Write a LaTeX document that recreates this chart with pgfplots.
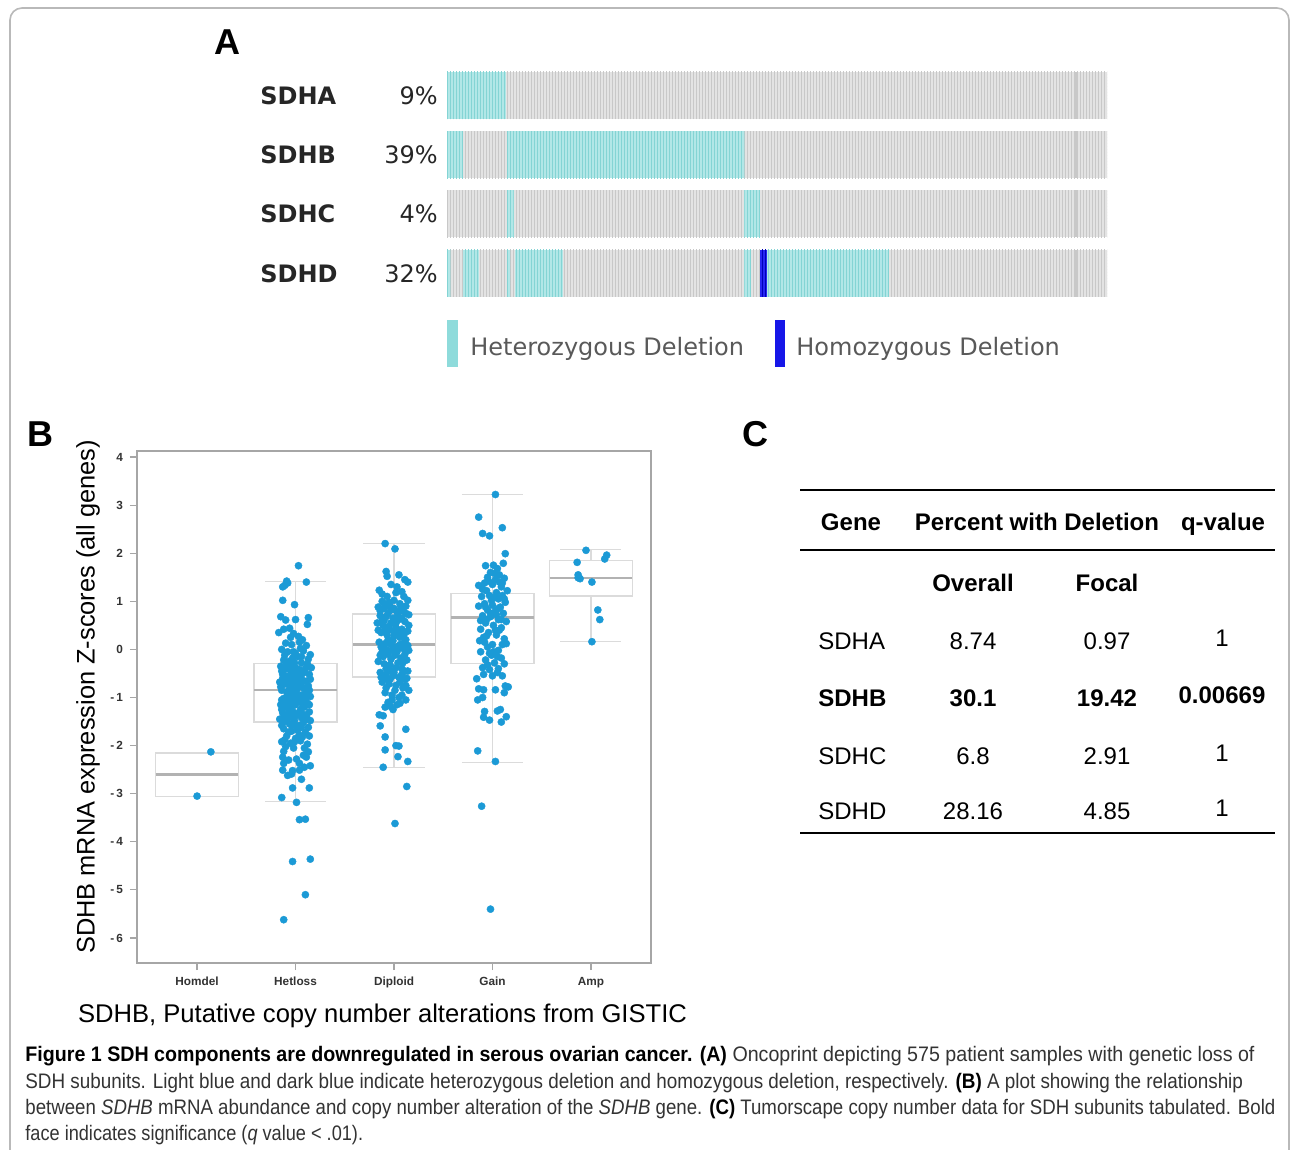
\documentclass[border=0pt]{standalone}
\usepackage{fontspec}
\setmainfont{Liberation Sans}
\newfontfamily\dejavu{DejaVu Sans}
\newfontfamily\capfont[FakeStretch=0.93]{Liberation Sans}
\usepackage{pgfplots}
\pgfplotsset{compat=1.18}
\usepgfplotslibrary{statistics}
\usetikzlibrary{patterns.meta}
\definecolor{grayb}{HTML}{E3E3E3}
\definecolor{grays}{HTML}{C8C8C8}
\definecolor{hetb}{HTML}{B2E7E7}
\definecolor{hets}{HTML}{84D4D4}
\definecolor{homb}{HTML}{2626F2}
\definecolor{homs}{HTML}{0000B8}
\definecolor{hetleg}{HTML}{8EDBDB}
\definecolor{homleg}{HTML}{1616E8}
\definecolor{ptblue}{HTML}{1B9AD6}
\tikzset{
 gseg/.style={draw=none, fill=grayb, postaction={pattern={Lines[angle=90,distance=1.5pt,line width=0.4pt]}, pattern color=grays}},
 dseg/.style={draw=none, fill=grays},
 hseg/.style={draw=none, fill=hetb, postaction={pattern={Lines[angle=90,distance=1.5pt,line width=0.4pt]}, pattern color=hets}},
 mseg/.style={draw=none, fill=homb, postaction={pattern={Lines[angle=90,distance=1.5pt,line width=0.4pt]}, pattern color=homs}},
 pts/.style={only marks, mark=*, mark size=1.8pt, color=ptblue, mark options={fill=ptblue, draw=ptblue, line width=0.2pt}},
 bx/.style={draw=gray!28, mark=none},
}
\newcommand{\seg}[5]{\addplot[#5] coordinates {(#1,#3) (#2,#3) (#2,#4) (#1,#4)} -- cycle;}
\begin{document}
\begin{tikzpicture}
\useasboundingbox (0,0) rectangle (645pt,-575pt);
\fill[white] (0,0) rectangle (645pt,-575pt);
% ---------------- Panel A ----------------
\begin{axis}[at={(223.5pt,-32.95pt)}, anchor=north west, scale only axis,
  width=330pt, height=118.4pt, xmin=0, xmax=575, ymin=0.5, ymax=4.5,
  y dir=reverse, hide axis, clip=false]
% SDHA
\seg{0}{575}{0.603}{1.397}{gseg}
\seg{547}{550}{0.603}{1.397}{dseg}
\seg{0}{51}{0.603}{1.397}{hseg}
% SDHB
\seg{0}{575}{1.603}{2.397}{gseg}
\seg{547}{550}{1.603}{2.397}{dseg}
\seg{0}{14}{1.603}{2.397}{hseg}
\seg{52}{259}{1.603}{2.397}{hseg}
% SDHC
\seg{0}{575}{2.603}{3.397}{gseg}
\seg{547}{550}{2.603}{3.397}{dseg}
\seg{52}{58}{2.603}{3.397}{hseg}
\seg{259}{273}{2.603}{3.397}{hseg}
% SDHD
\seg{0}{575}{3.603}{4.397}{gseg}
\seg{547}{550}{3.603}{4.397}{dseg}
\seg{0}{3}{3.603}{4.397}{hseg}
\seg{14}{28}{3.603}{4.397}{hseg}
\seg{52}{55}{3.603}{4.397}{hseg}
\seg{59}{101}{3.603}{4.397}{hseg}
\seg{259}{265}{3.603}{4.397}{hseg}
\seg{273}{279}{3.603}{4.397}{mseg}
\seg{279}{385}{3.603}{4.397}{hseg}
\end{axis}
% ---------------- Panel B ----------------
\begin{axis}[at={(68.5pt,-481.5pt)}, anchor=south west, scale only axis,
  width=257pt, height=256pt, xmin=-0.61, xmax=4.61, ymin=-6.52, ymax=4.125,
  xtick={0,1,2,3,4}, xticklabels={Homdel,Hetloss,Diploid,Gain,Amp},
  ytick={-6,-5,-4,-3,-2,-1,0,1,2,3,4},
  yticklabels={-\,6,-\,5,-\,4,-\,3,-\,2,-\,1,0,1,2,3,4},
  tick align=outside, xtick pos=bottom, ytick pos=left, major tick length=3.5pt,
  tick style={gray!70, line width=0.6pt},
  axis line style={gray!70, line width=0.9pt},
  ticklabel style={font=\bfseries\fontsize{5.9}{6}\selectfont, text=black!80},
  boxplot/draw direction=y,
  boxplot/every box/.style={draw=gray!28, line width=0.7pt},
  boxplot/every whisker/.style={draw=gray!28, line width=0.6pt},
  boxplot/every median/.style={draw=gray!60, line width=1.4pt},
  boxplot/box extend=0.84, boxplot/whisker extend=0.62]
\addplot[bx, boxplot prepared={median=-2.6, upper quartile=-2.15, lower quartile=-3.055, upper whisker=-2.15, lower whisker=-3.055, draw position=0}] coordinates {};
\addplot[bx, boxplot prepared={median=-0.845, upper quartile=-0.295, lower quartile=-1.51, upper whisker=1.42, lower whisker=-3.17, draw position=1}] coordinates {};
\addplot[bx, boxplot prepared={median=0.105, upper quartile=0.736, lower quartile=-0.57, upper whisker=2.20, lower whisker=-2.45, draw position=2}] coordinates {};
\addplot[bx, boxplot prepared={median=0.67, upper quartile=1.16, lower quartile=-0.295, upper whisker=3.22, lower whisker=-2.35, draw position=3}] coordinates {};
\addplot[bx, boxplot prepared={median=1.485, upper quartile=1.85, lower quartile=1.107, upper whisker=2.08, lower whisker=0.157, draw position=4}] coordinates {};
% Homdel
\addplot[pts] coordinates {(0.14,-2.13) (0.00,-3.05)};
% Hetloss
\addplot[pts] coordinates {
(1.03,1.74) (0.91,1.42) (0.92,1.38) (1.11,1.40) (0.87,1.30) (0.89,1.33) (0.87,1.02) (0.99,0.93) (0.85,0.68) (0.90,0.61) (1.00,0.62) (1.13,0.66) (1.12,0.52) (0.88,0.42) (0.94,0.44) (0.83,0.35) (0.98,0.33) (1.03,0.27) (1.07,0.20) (0.90,0.13) (0.96,0.10) (1.11,0.08) (1.05,0.02) (0.86,0.00) (1.15,-0.11) (0.92,-0.05) (1.00,-0.08) (1.08,-0.03)
(0.88,-0.22) (0.93,-0.25) (0.97,-0.18) (1.02,-0.15) (1.06,-0.28) (1.12,-0.30) (1.16,-0.38) (0.85,-0.35) (0.90,-0.40) (0.95,-0.45) (1.00,-0.38) (1.04,-0.42) (1.09,-0.48) (1.14,-0.52) (0.87,-0.52) (0.92,-0.58) (0.97,-0.55) (1.01,-0.62) (1.06,-0.60) (1.11,-0.66) (0.84,-0.68) (0.89,-0.72) (0.94,-0.75) (0.99,-0.70) (1.03,-0.78) (1.08,-0.80) (1.13,-0.76) (0.86,-0.85) (0.91,-0.88) (0.96,-0.92) (1.01,-0.86) (1.06,-0.95) (1.10,-0.90) (1.15,-0.98) (0.88,-1.02) (0.93,-1.05) (0.98,-1.00) (1.03,-1.08) (1.07,-1.04) (1.12,-1.12) (0.85,-1.15) (0.90,-1.18) (0.95,-1.22) (1.00,-1.15) (1.05,-1.25) (1.09,-1.20) (1.14,-1.30) (0.87,-1.32) (0.92,-1.36) (0.97,-1.40) (1.02,-1.33) (1.06,-1.42) (1.11,-1.38) (0.84,-1.45) (0.89,-1.50) (0.94,-1.55) (0.99,-1.48) (1.04,-1.58) (1.08,-1.52) (1.13,-1.62) (0.88,-1.65) (0.96,-1.70) (1.02,-1.68) (1.10,-1.72) (0.91,-1.80) (1.00,-1.85) (1.07,-1.82) (0.86,-1.92) (0.95,-1.95) (1.05,-1.90) (1.12,-1.97)
(0.91,-0.30) (0.99,-0.28) (1.05,-0.50) (0.93,-0.65) (1.00,-0.95) (0.89,-1.10) (1.10,-1.05) (0.97,-1.28) (1.03,-0.72) (0.94,-0.82) (0.87,-0.60) (1.14,-0.85) (1.00,-0.48) (0.95,-1.12) (1.08,-1.35) (0.92,-1.45) (1.01,-1.60) (0.86,-1.25) (1.15,-1.48) (1.06,-0.15)
(0.95,0.25) (1.04,0.15) (0.89,-0.12) (0.98,-0.05) (1.13,-0.20) (0.86,-0.45) (0.96,-0.35) (1.10,-0.40) (0.90,-0.55) (1.02,-0.52) (1.15,-0.62) (0.98,-0.62) (0.85,-0.78) (0.96,-0.80) (1.06,-0.70) (1.12,-0.95) (0.92,-0.95) (1.04,-1.00) (0.86,-1.05) (1.00,-1.08) (1.14,-1.15) (0.93,-1.25) (1.07,-1.15) (0.89,-1.40) (1.00,-1.38) (1.12,-1.45) (0.96,-1.58) (1.06,-1.62) (0.86,-1.58) (0.93,-1.72) (1.04,-1.78) (1.14,-1.80) (0.89,-1.88) (0.98,-2.05) (1.09,-2.05) (0.93,-2.30) (1.01,-2.28) (0.92,-2.62) (1.09,-2.45) (0.99,-1.92)
(0.90,-2.02) (0.88,-2.12) (1.13,-2.13) (0.87,-2.24) (1.08,-2.20) (1.11,-2.24) (0.88,-2.37) (1.04,-2.37) (1.15,-2.42) (0.87,-2.51) (0.97,-2.52) (1.04,-2.51) (0.96,-2.59) (1.06,-2.70) (0.97,-2.88) (1.14,-2.88) (0.86,-3.08) (1.01,-3.18) (1.04,-3.54) (1.10,-3.53) (0.97,-4.41) (1.15,-4.36) (1.10,-5.10) (0.88,-5.62)};
% Diploid
\addplot[pts] coordinates {
(1.91,2.20) (2.01,2.09) (1.92,1.62) (1.93,1.52) (2.05,1.55) (2.11,1.45) (2.14,1.40) (1.85,1.23) (1.97,1.35) (2.03,1.30) (2.10,1.10) (1.93,1.10) (1.88,1.00) (1.95,0.98) (2.00,1.02) (2.06,0.95) (2.12,0.90) (1.84,0.88) (1.90,0.85) (1.97,0.82) (2.03,0.78) (2.09,0.80) (2.15,0.72) (1.86,0.70) (1.92,0.68) (1.99,0.65) (2.05,0.62) (2.11,0.58) (1.83,0.55) (1.89,0.50) (1.95,0.48) (2.02,0.45) (2.08,0.42) (2.14,0.38) (1.87,0.35) (1.93,0.30) (2.00,0.28) (2.06,0.25) (2.12,0.20) (1.85,0.15) (1.91,0.12) (1.97,0.10) (2.03,0.05) (2.09,0.02) (2.15,-0.02) (1.88,-0.05) (1.94,-0.10) (2.01,-0.12) (2.07,-0.18) (2.13,-0.22) (1.84,-0.25) (1.90,-0.30) (1.96,-0.32) (2.02,-0.38) (2.08,-0.40) (2.14,-0.45) (1.86,-0.48) (1.92,-0.52) (1.99,-0.55) (2.05,-0.58) (2.11,-0.62) (1.88,-0.68) (1.95,-0.72) (2.02,-0.75) (2.09,-0.80) (2.15,-0.85) (1.91,-0.90) (1.98,-0.95) (2.05,-1.00) (2.12,-1.05) (1.94,-1.10) (2.03,-1.15) (1.99,-1.25)
(1.96,0.90) (2.04,0.70) (1.90,0.60) (2.00,0.38) (2.10,0.30) (1.94,0.20) (2.06,0.10) (1.98,-0.02) (2.11,-0.10) (1.89,-0.15) (2.04,-0.28) (1.97,-0.45) (2.08,-0.52) (1.93,-0.62) (2.01,-0.85) (2.13,-0.60) (1.87,0.05) (2.02,0.55) (1.95,0.40) (2.07,0.88)
(1.88,1.15) (2.02,1.18) (2.08,1.20) (1.90,0.95) (2.14,1.02) (1.86,0.80) (2.00,0.85) (2.12,0.75) (1.94,0.75) (2.08,0.65) (1.88,0.60) (1.97,0.55) (2.15,0.50) (1.91,0.42) (2.05,0.35) (1.84,0.40) (1.99,0.18) (2.09,0.12) (1.92,0.00) (2.03,-0.05) (2.14,0.08) (1.86,-0.12) (1.97,-0.20) (2.09,-0.28) (1.92,-0.40) (2.00,-0.48) (2.11,-0.45) (1.87,-0.58) (1.96,-0.62) (2.06,-0.68) (2.12,-0.75) (1.92,-0.80) (1.98,-1.05) (2.08,-0.95) (2.06,-1.12) (1.96,-1.18)
(1.91,-1.20) (1.85,-1.36) (1.89,-1.38) (1.86,-1.59) (1.91,-1.82) (2.12,-1.66) (1.91,-2.09) (2.02,-2.00) (2.05,-2.01) (2.04,-2.23) (2.14,-2.33) (1.89,-2.45) (2.13,-2.85) (2.01,-3.62)};
% Gain
\addplot[pts] coordinates {
(3.03,3.22) (2.86,2.75) (3.10,2.53) (2.90,2.41) (2.97,2.36) (3.13,1.99) (3.11,1.79) (2.93,1.74) (3.01,1.75) (3.05,1.68) (2.98,1.60) (3.07,1.55) (3.12,1.48) (2.95,1.50) (3.03,1.45) (2.86,1.33) (2.92,1.38) (3.00,1.35) (3.09,1.30) (3.15,1.22) (2.94,1.22) (3.04,1.18) (2.89,1.10) (2.97,1.12) (3.06,1.05) (3.13,0.98) (2.92,0.95) (3.00,0.92) (3.08,0.88) (2.86,0.90) (2.95,0.82) (3.03,0.80) (3.11,0.75) (2.90,0.70) (2.98,0.68) (3.06,0.62) (2.93,0.55) (3.01,0.50) (2.88,0.42) (3.09,0.45) (2.96,0.35) (3.04,0.30) (3.12,0.22) (2.87,0.18) (2.92,0.15) (3.00,0.10) (3.14,0.12) (2.95,0.05) (3.06,-0.02) (2.88,-0.05) (2.99,-0.12) (3.09,-0.18) (2.93,-0.22) (3.02,-0.28) (3.12,-0.30) (2.90,-0.38) (2.97,-0.42) (3.05,-0.48) (3.00,-0.55) (3.10,-0.55)
(3.07,1.40) (2.99,1.02) (3.10,1.12) (2.94,0.62) (3.04,0.72) (3.14,0.58) (2.91,0.25) (3.07,0.40) (3.01,-0.05) (2.95,-0.32)
(3.02,1.58) (2.96,1.42) (3.10,1.38) (2.90,1.25) (3.02,1.08) (3.12,1.05) (2.93,0.88) (3.06,0.85) (2.98,0.75) (3.09,0.62) (2.88,0.60) (3.03,0.40) (2.94,0.28) (3.10,0.10) (2.97,-0.08) (3.05,-0.15) (2.91,-0.52) (3.06,-0.40)
(2.84,-0.61) (2.86,-0.82) (2.91,-0.84) (3.03,-0.84) (3.13,-0.76) (3.16,-0.78) (3.12,-0.90) (2.85,-1.05) (2.90,-1.00) (3.08,-1.25) (3.05,-1.28) (2.92,-1.29) (2.91,-1.41) (2.97,-1.47) (3.14,-1.40) (3.09,-1.51) (2.85,-2.11) (3.03,-2.33) (2.89,-3.26) (2.98,-5.40)};
% Amp
\addplot[pts] coordinates {(3.95,2.06) (4.16,1.96) (4.14,1.88) (3.86,1.81) (3.87,1.55) (3.89,1.47) (3.87,1.49) (4.01,1.40) (4.07,0.82) (4.09,0.62) (4.01,0.16)};
\end{axis}
% ---------------- texts and frame ----------------
\begin{scope}[x=0.5pt,y=-0.5pt]
\draw[gray!55, line width=0.8pt, rounded corners=6pt] (10,1152) -- (10,8) -- (1289,8) -- (1289,1152);
% panel labels
\node[font=\bfseries\fontsize{18}{20}\selectfont, inner sep=0] at (227,42) {A};
\node[font=\bfseries\fontsize{18}{20}\selectfont, inner sep=0] at (40,434) {B};
\node[font=\bfseries\fontsize{18}{20}\selectfont, inner sep=0] at (755,434) {C};
% panel A labels
\begin{scope}[every node/.style={inner sep=0, font=\dejavu\fontsize{12}{14}\selectfont, text=black!85}]
\node[anchor=base west] at (260,105) {\bfseries SDHA};
\node[anchor=base west] at (260,164) {\bfseries SDHB};
\node[anchor=base west] at (260,223) {\bfseries SDHC};
\node[anchor=base west] at (260,283) {\bfseries SDHD};
\node[anchor=base east] at (438,105) {9\%};
\node[anchor=base east] at (438,164) {39\%};
\node[anchor=base east] at (438,223) {4\%};
\node[anchor=base east] at (438,283) {32\%};
\node[anchor=base west, text=black!65] at (470,355) {Heterozygous Deletion};
\node[anchor=base west, text=black!65] at (796,355) {Homozygous Deletion};
\end{scope}
\fill[hetleg] (447,320) rectangle (458,367);
\fill[homleg] (775,320) rectangle (785,367);
% panel B labels
\node[rotate=90, inner sep=0, font=\fontsize{12.7}{14}\selectfont] at (88,697) {SDHB mRNA expression Z-scores (all genes)};
\node[anchor=base, inner sep=0, font=\fontsize{12.8}{14}\selectfont] at (382.5,1022) {SDHB, Putative copy number alterations from GISTIC};
% panel C table
\draw[line width=1pt] (800,490) -- (1275,490);
\draw[line width=1pt] (800,550) -- (1275,550);
\draw[line width=1pt] (800,833) -- (1275,833);
\begin{scope}[every node/.style={inner sep=0, anchor=base, font=\fontsize{12}{14}\selectfont}]
\node[font=\bfseries\fontsize{12}{14}\selectfont] at (851,530) {Gene};
\node[font=\bfseries\fontsize{12}{14}\selectfont] at (1037,530) {Percent with Deletion};
\node[font=\bfseries\fontsize{12}{14}\selectfont] at (1223,530) {q-value};
\node[font=\bfseries\fontsize{12}{14}\selectfont] at (973,591) {Overall};
\node[font=\bfseries\fontsize{12}{14}\selectfont] at (1107,591) {Focal};
\node[anchor=base west] at (818,649) {SDHA};
\node at (973,649) {8.74};
\node at (1107,649) {0.97};
\node at (1222,646) {1};
\node[anchor=base west, font=\bfseries\fontsize{12}{14}\selectfont] at (818,706) {SDHB};
\node[font=\bfseries\fontsize{12}{14}\selectfont] at (973,706) {30.1};
\node[font=\bfseries\fontsize{12}{14}\selectfont] at (1107,706) {19.42};
\node[font=\bfseries\fontsize{12}{14}\selectfont] at (1222,703) {0.00669};
\node[anchor=base west] at (818,764) {SDHC};
\node at (973,764) {6.8};
\node at (1107,764) {2.91};
\node at (1222,761) {1};
\node[anchor=base west] at (818,819) {SDHD};
\node at (973,819) {28.16};
\node at (1107,819) {4.85};
\node at (1222,816) {1};
\end{scope}
% caption
\begin{scope}[every node/.style={inner sep=0, anchor=base west, text=black!80, font=\capfont\fontsize{10.5}{12}\selectfont}]
\node at (25,1061) {\scalebox{1.006}[1]{\textcolor{black}{\bfseries Figure 1 SDH components are downregulated in serous ovarian cancer. (A)} Oncoprint depicting 575 patient samples with genetic loss of}};
\node at (25,1088) {\scalebox{0.966}[1]{SDH subunits. Light blue and dark blue indicate heterozygous deletion and homozygous deletion, respectively. \textcolor{black}{\bfseries (B)} A plot showing the relationship}};
\node at (25,1114) {\scalebox{0.955}[1]{between \textit{SDHB} mRNA abundance and copy number alteration of the \textit{SDHB} gene. \textcolor{black}{\bfseries (C)} Tumorscape copy number data for SDH subunits tabulated. Bold}};
\node at (25,1140) {\scalebox{0.93}[1]{face indicates significance (\textit{q} value < .01).}};
\end{scope}
\end{scope}
\end{tikzpicture}
\end{document}
